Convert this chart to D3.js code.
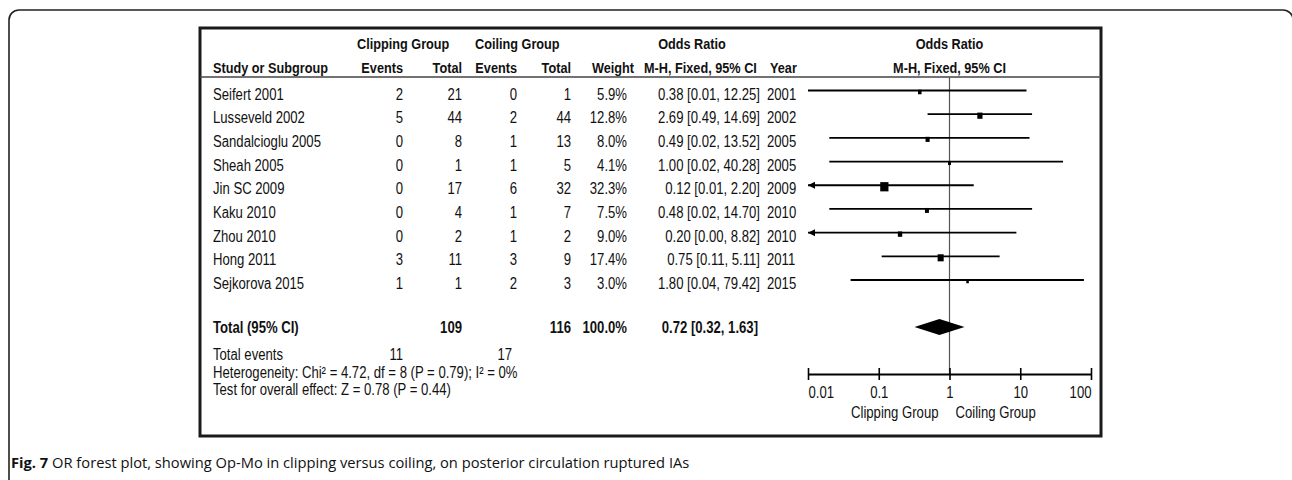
<!DOCTYPE html>
<html>
<head>
<meta charset="utf-8">
<script src="https://cdn.jsdelivr.net/npm/d3@7"></script>
<style>
body{margin:0;background:#fff;}
svg text{font-family:"Liberation Sans",Arial,sans-serif;fill:#111;}
</style>
</head>
<body>
<script>
const svg_width = 1292, svg_height = 480;

// study rows
const studies = ["Seifert 2001","Lusseveld 2002","Sandalcioglu 2005","Sheah 2005","Jin SC 2009","Kaku 2010","Zhou 2010","Hong 2011","Sejkorova 2015"];
const clipEvents = [2,5,0,0,0,0,0,3,1];
const clipTotal = [21,44,8,1,17,4,2,11,1];
const coilEvents = [0,2,1,1,6,1,1,3,2];
const coilTotal = [1,44,13,5,32,7,2,9,3];
const weights = [5.9,12.8,8.0,4.1,32.3,7.5,9.0,17.4,3.0];
const orValues = [0.38,2.69,0.49,1.00,0.12,0.48,0.20,0.75,1.80];
const ciLower = [0.01,0.49,0.02,0.02,0.01,0.02,0.00,0.11,0.04];
const ciUpper = [12.25,14.69,13.52,40.28,2.20,14.70,8.82,5.11,79.42];
const leftArrow = [false,false,false,false,true,false,true,false,false];
const years = [2001,2002,2005,2005,2009,2010,2010,2011,2015];

// totals
const totalClip = 109, totalCoil = 116, totalWeight = 100.0;
const totalOR = 0.72, totalLower = 0.32, totalUpper = 1.63;
const eventsClip = 11, eventsCoil = 17;
const heterogeneity = "Heterogeneity: Chi² = 4.72, df = 8 (P = 0.79); I² = 0%";
const overallTest = "Test for overall effect: Z = 0.78 (P = 0.44)";

// axis
const tickValues = [0.01,0.1,1,10,100];
const tickLabels = ["0.01","0.1","1","10","100"];
const favourLabels = ["Clipping Group","Coiling Group"];

const caption = "OR forest plot, showing Op-Mo in clipping versus coiling, on posterior circulation ruptured IAs";

const narrow = 0.82; // the original type is a condensed Arial

var svg = d3.select("body").append("svg")
  .attr("width",svg_width)
  .attr("height",svg_height);

// condensed text at (x,y)
function txt(g,x,y,str,anchor){
  return g.append("text")
    .attr("transform","translate("+x+","+y+") scale("+narrow+",1)")
    .attr("text-anchor",anchor||"start")
    .text(str);
}

// outer figure frame (rounded, open at bottom)
svg.append("rect")
  .attr("x",9).attr("y",10)
  .attr("width",1284).attr("height",520)
  .attr("rx",10)
  .attr("fill","none")
  .attr("stroke","#222")
  .attr("stroke-width",1.6);

// plot box
const box = {left:200,top:28,right:1101,bottom:436};
svg.append("rect")
  .attr("x",box.left).attr("y",box.top)
  .attr("width",box.right-box.left).attr("height",box.bottom-box.top)
  .attr("fill","none")
  .attr("stroke","#1a1a1a")
  .attr("stroke-width",3);

svg.append("line")
  .attr("x1",box.left).attr("x2",box.right)
  .attr("y1",77).attr("y2",77)
  .attr("stroke","#444").attr("stroke-width",1.6);

var x = d3.scaleLog().domain([0.01,100]).range([808,1091]);
var y = d3.scalePoint().domain(studies).range([90.5,280]);
var sq = d3.scaleSqrt().domain([0,100]).range([0,14.5]);

// column anchors
const col = {name:213, clipEv:403, clipTot:462, coilEv:517, coilTot:571, weight:627, or:760, year:767};

// headers
var head = svg.append("g").attr("font-weight","bold").attr("font-size","15.5px");
txt(head,357,49,"Clipping Group");
txt(head,475,49,"Coiling Group");
txt(head,692,49,"Odds Ratio","middle");
txt(head,x(1),49,"Odds Ratio","middle");
txt(head,col.name,73,"Study or Subgroup");
txt(head,col.clipEv,73,"Events","end");
txt(head,col.clipTot,73,"Total","end");
txt(head,col.coilEv,73,"Events","end");
txt(head,col.coilTot,73,"Total","end");
txt(head,634,73,"Weight","end");
txt(head,644,73,"M-H, Fixed, 95% CI");
txt(head,770,73,"Year");
txt(head,x(1),73,"M-H, Fixed, 95% CI","middle");

// null line
svg.append("line")
  .attr("x1",x(1)).attr("x2",x(1))
  .attr("y1",77).attr("y2",374)
  .attr("stroke","#555").attr("stroke-width",1.2);

// study table rows
var rows = svg.append("g").attr("font-size","16px");
studies.forEach(function(s,i){
  var by = y(s)+9;
  txt(rows,col.name,by,s);
  txt(rows,col.clipEv,by,clipEvents[i],"end");
  txt(rows,col.clipTot,by,clipTotal[i],"end");
  txt(rows,col.coilEv,by,coilEvents[i],"end");
  txt(rows,col.coilTot,by,coilTotal[i],"end");
  txt(rows,col.weight,by,weights[i].toFixed(1)+"%","end");
  txt(rows,col.or,by,orValues[i].toFixed(2)+" ["+ciLower[i].toFixed(2)+", "+ciUpper[i].toFixed(2)+"]","end");
  txt(rows,col.year,by,years[i]);
});

// confidence intervals and squares
var marks = svg.append("g");
studies.forEach(function(s,i){
  var lo = Math.max(ciLower[i],0.01), hi = Math.min(ciUpper[i],100);
  marks.append("line")
    .attr("x1",x(lo)).attr("x2",x(hi))
    .attr("y1",y(s)).attr("y2",y(s))
    .attr("stroke","#000").attr("stroke-width",1.8);
  if(leftArrow[i]){
    var ax = x(0.01);
    marks.append("path")
      .attr("d","M"+ax+","+y(s)+"L"+(ax+7)+","+(y(s)-3.5)+"L"+(ax+7)+","+(y(s)+3.5)+"Z")
      .attr("fill","#000");
  }
  var side = Math.max(sq(weights[i]),2.5);
  marks.append("rect")
    .attr("x",x(orValues[i])-side/2).attr("y",y(s)-side/2+1)
    .attr("width",side).attr("height",side+1)
    .attr("fill","#000");
});

// total row
var tot = svg.append("g").attr("font-size","16px").attr("font-weight","bold");
txt(tot,col.name,333,"Total (95% CI)");
txt(tot,col.clipTot,333,totalClip,"end");
txt(tot,col.coilTot,333,totalCoil,"end");
txt(tot,col.weight,333,totalWeight.toFixed(1)+"%","end");
txt(tot,col.or-2,333,totalOR.toFixed(2)+" ["+totalLower.toFixed(2)+", "+totalUpper.toFixed(2)+"]","end");

svg.append("path")
  .attr("d","M"+x(totalLower)+",327L"+x(totalOR)+",319L"+x(totalUpper)+",327L"+x(totalOR)+",335Z")
  .attr("fill","#000");

var foot = svg.append("g").attr("font-size","16px");
txt(foot,col.name,360,"Total events");
txt(foot,col.clipEv,360,eventsClip,"end");
txt(foot,512,360,eventsCoil,"end");
txt(foot,col.name,378,heterogeneity).attr("font-size","16px");
txt(foot,col.name,395,overallTest).attr("font-size","16px");

// log axis
var axis = svg.append("g")
  .attr("transform","translate(0,374)")
  .call(d3.axisBottom(x).tickValues(tickValues).tickSizeInner(6).tickSizeOuter(0)
    .tickFormat(function(d,i){return tickLabels[i];}));
axis.attr("font-family",null).attr("font-size",null);
axis.select(".domain").attr("stroke","#000").attr("stroke-width",2);
axis.selectAll(".tick line").attr("y1",-6).attr("y2",6).attr("stroke","#000").attr("stroke-width",1.6);
axis.selectAll(".tick text")
  .attr("y",null).attr("dy",null)
  .attr("transform","translate(0,24) scale("+narrow+",1)")
  .attr("font-size","16px")
  .attr("fill","#111")
  .attr("text-anchor",function(d,i){return i==0?"start":(i==tickValues.length-1?"end":"middle");});

var fav = svg.append("g").attr("font-size","16px");
txt(fav,x(1)-11,418,favourLabels[0],"end");
txt(fav,x(1)+6,418,favourLabels[1]);

// caption
var cap = svg.append("text").attr("x",11).attr("y",468)
  .style("font-family","'Open Sans','Noto Sans',sans-serif")
  .attr("font-size","14.7px");
cap.append("tspan").attr("font-weight","bold").text("Fig. 7");
cap.append("tspan").text(" "+caption);
</script>
</body>
</html>
